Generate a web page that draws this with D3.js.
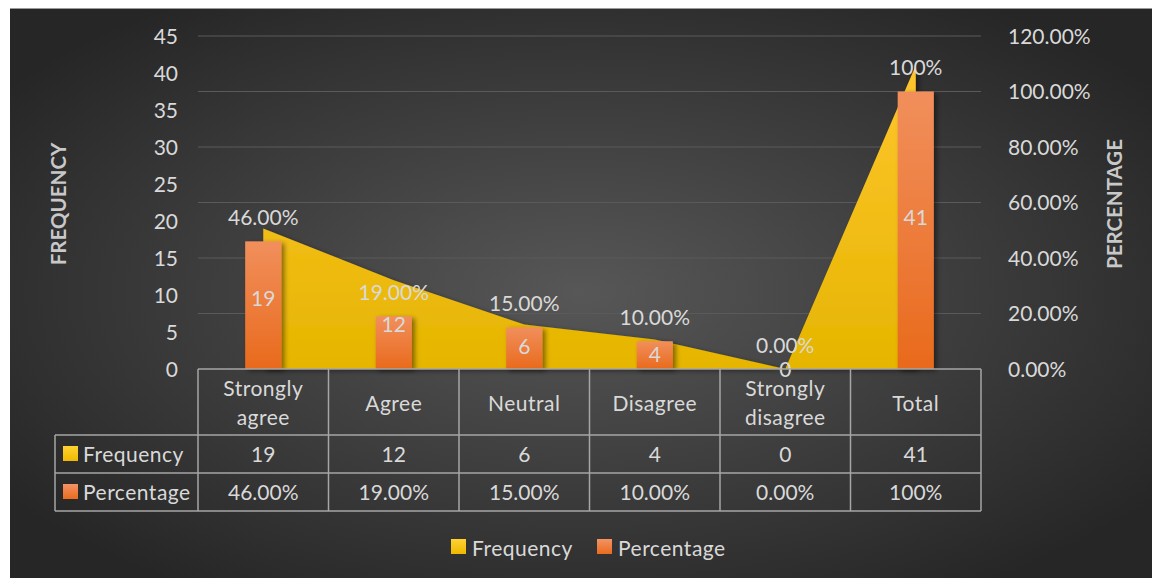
<!DOCTYPE html>
<html>
<head>
<meta charset="utf-8">
<script src="https://cdn.jsdelivr.net/npm/d3@7/dist/d3.min.js"></script>
<style>
  html, body { margin: 0; padding: 0; background: #ffffff; }
  svg { display: block; }
  text { font-family: Lato, "Open Sans", sans-serif; }
</style>
</head>
<body>
<svg id="chart" width="1152" height="578"></svg>
<script>
const categories = ["Strongly agree", "Agree", "Neutral", "Disagree", "Strongly disagree", "Total"];
const frequency = [19, 12, 6, 4, 0, 41];
const percentage = [0.46, 0.19, 0.15, 0.10, 0.00, 1.00];
const frequencyLabels = ["19", "12", "6", "4", "0", "41"];
const percentageLabels = ["46.00%", "19.00%", "15.00%", "10.00%", "0.00%", "100%"];
const leftTicks = [0, 5, 10, 15, 20, 25, 30, 35, 40, 45];
const leftTickLabels = ["0", "5", "10", "15", "20", "25", "30", "35", "40", "45"];
const rightTicks = [0, 0.2, 0.4, 0.6, 0.8, 1.0, 1.2];
const rightTickLabels = ["0.00%", "20.00%", "40.00%", "60.00%", "80.00%", "100.00%", "120.00%"];
const seriesNames = ["Frequency", "Percentage"];

const svg = d3.select("#chart");
const W = 1152, H = 578;
const plot = { left: 198, right: 981, top: 36, bottom: 369 };
const textColor = "#d9d9d9";
const lineColor = "#a6a6a6";
const fs = 21;
const wordSpacing = 0.5;

const defs = svg.append("defs");
const bg = defs.append("radialGradient").attr("id", "bg")
  .attr("cx", "50%").attr("cy", "50%").attr("r", "62%");
bg.append("stop").attr("offset", "0%").attr("stop-color", "#575757");
bg.append("stop").attr("offset", "100%").attr("stop-color", "#262626");

const areaGrad = defs.append("linearGradient").attr("id", "areaGrad")
  .attr("x1", 0).attr("y1", 0).attr("x2", 0).attr("y2", 1);
areaGrad.append("stop").attr("offset", "0%").attr("stop-color", "#ffc62e");
areaGrad.append("stop").attr("offset", "100%").attr("stop-color", "#e5b500");

const barGrad = defs.append("linearGradient").attr("id", "barGrad")
  .attr("x1", 0).attr("y1", 0).attr("x2", 0).attr("y2", 1);
barGrad.append("stop").attr("offset", "0%").attr("stop-color", "#f18f5c");
barGrad.append("stop").attr("offset", "100%").attr("stop-color", "#e96a1c");

const keyY = defs.append("linearGradient").attr("id", "keyY")
  .attr("x1", 0).attr("y1", 0).attr("x2", 0).attr("y2", 1);
keyY.append("stop").attr("offset", "0%").attr("stop-color", "#ffd233");
keyY.append("stop").attr("offset", "100%").attr("stop-color", "#efb900");
const keyO = defs.append("linearGradient").attr("id", "keyO")
  .attr("x1", 0).attr("y1", 0).attr("x2", 0).attr("y2", 1);
keyO.append("stop").attr("offset", "0%").attr("stop-color", "#f39365");
keyO.append("stop").attr("offset", "100%").attr("stop-color", "#ea6b1d");

const shadow = defs.append("filter").attr("id", "shadow")
  .attr("x", "-20%").attr("y", "-20%").attr("width", "160%").attr("height", "140%");
shadow.append("feDropShadow").attr("dx", 3).attr("dy", 2).attr("stdDeviation", 2.5)
  .attr("flood-color", "#000").attr("flood-opacity", 0.45);

// background
svg.append("rect").attr("x", 10).attr("y", 8).attr("width", W - 10).attr("height", H - 8)
  .attr("fill", "url(#bg)");
svg.append("line").attr("x1", 10).attr("x2", W).attr("y1", 8.5).attr("y2", 8.5)
  .attr("stroke", "#9a9a9a").attr("stroke-width", 1);

const x = d3.scaleBand().domain(categories).range([plot.left, plot.right]).padding(0);
const yL = d3.scaleLinear().domain([0, 45]).range([plot.bottom, plot.top]);
const yR = d3.scaleLinear().domain([0, 1.2]).range([plot.bottom, plot.top]);
const cx = c => x(c) + x.bandwidth() / 2;
const barW = x.bandwidth() * 0.277;

// gridlines (right axis)
svg.append("g").selectAll("line").data(rightTicks.filter(t => t > 0)).join("line")
  .attr("x1", plot.left).attr("x2", plot.right)
  .attr("y1", d => yR(d)).attr("y2", d => yR(d))
  .attr("stroke", "#5a5a5a").attr("stroke-width", 1.2);

// area
const area = d3.area()
  .x((d, i) => cx(categories[i]))
  .y0(plot.bottom)
  .y1(d => yL(d));
svg.append("path").datum(frequency).attr("d", area)
  .attr("fill", "url(#areaGrad)").attr("filter", "url(#shadow)");

// bars
svg.append("g").selectAll("rect").data(percentage).join("rect")
  .attr("x", (d, i) => cx(categories[i]) - barW / 2)
  .attr("width", barW)
  .attr("y", d => yR(d))
  .attr("height", d => plot.bottom - yR(d))
  .attr("fill", "url(#barGrad)").attr("filter", "url(#shadow)");

// left axis ticks
svg.append("g").selectAll("text").data(leftTicks).join("text")
  .attr("x", 178).attr("y", d => yL(d)).attr("dy", "0.36em")
  .attr("text-anchor", "end").attr("fill", textColor).attr("font-size", fs)
  .text((d, i) => leftTickLabels[i]);
// right axis ticks
svg.append("g").selectAll("text").data(rightTicks).join("text")
  .attr("x", 1008).attr("y", d => yR(d)).attr("dy", "0.36em")
  .attr("text-anchor", "start").attr("fill", textColor).attr("font-size", fs)
  .text((d, i) => rightTickLabels[i]);

// axis titles
svg.append("text").attr("transform", `translate(66,${204}) rotate(-90)`)
  .attr("text-anchor", "middle").attr("fill", "#c8c8c8").attr("font-size", 20.5)
  .attr("font-weight", "bold").text("FREQUENCY");
svg.append("text").attr("transform", `translate(1122,${204}) rotate(-90)`)
  .attr("text-anchor", "middle").attr("fill", "#c8c8c8").attr("font-size", 20.5)
  .attr("font-weight", "bold").text("PERCENTAGE");

// data labels: percentage above bars
svg.append("g").selectAll("text").data(percentage).join("text")
  .attr("x", (d, i) => cx(categories[i])).attr("y", d => yR(d) - 24).attr("dy", "0.36em")
  .attr("text-anchor", "middle").attr("fill", textColor).attr("font-size", fs)
  .text((d, i) => percentageLabels[i]);
// frequency labels at mid area
svg.append("g").selectAll("text").data(frequency).join("text")
  .attr("x", (d, i) => cx(categories[i])).attr("y", d => yL(d / 2)).attr("dy", "0.36em")
  .attr("text-anchor", "middle").attr("fill", textColor).attr("font-size", fs)
  .text((d, i) => frequencyLabels[i]);

// data table
const rowTop = plot.bottom, rowH1 = 435, rowH2 = 473, rowH3 = 511, tableLeft = 55;
const tg = svg.append("g").attr("stroke", lineColor).attr("stroke-width", 1.5).attr("fill", "none");
tg.append("line").attr("x1", plot.left).attr("x2", plot.right).attr("y1", rowTop).attr("y2", rowTop);
[rowH1, rowH2, rowH3].forEach(y => tg.append("line").attr("x1", tableLeft).attr("x2", plot.right).attr("y1", y).attr("y2", y));
tg.append("line").attr("x1", tableLeft).attr("x2", tableLeft).attr("y1", rowH1).attr("y2", rowH3);
categories.forEach(c => tg.append("line").attr("x1", x(c)).attr("x2", x(c)).attr("y1", rowTop).attr("y2", rowH3));
tg.append("line").attr("x1", plot.right).attr("x2", plot.right).attr("y1", rowTop).attr("y2", rowH3);

// category headers
categories.forEach(c => {
  const words = c.split(" ");
  const t = svg.append("text").attr("text-anchor", "middle").attr("fill", textColor)
    .attr("font-size", fs).attr("letter-spacing", wordSpacing);
  const midY = (rowTop + rowH1) / 2 + 1;
  if (words.length === 1) {
    t.append("tspan").attr("x", cx(c)).attr("y", midY).attr("dy", "0.36em").text(c);
  } else {
    words.forEach((w, k) => t.append("tspan").attr("x", cx(c)).attr("y", midY + (k === 0 ? -14.5 : 14.5)).attr("dy", "0.36em").text(w));
  }
});
// table rows
const rows = [frequencyLabels, percentageLabels];
const rowMid = [(rowH1 + rowH2) / 2, (rowH2 + rowH3) / 2];
const keys = ["url(#keyY)", "url(#keyO)"];
rows.forEach((vals, r) => {
  svg.append("g").selectAll("text").data(vals).join("text")
    .attr("x", (d, i) => cx(categories[i])).attr("y", rowMid[r]).attr("dy", "0.36em")
    .attr("text-anchor", "middle").attr("fill", textColor).attr("font-size", fs).text(d => d);
  svg.append("rect").attr("x", 63).attr("y", rowMid[r] - 8).attr("width", 15).attr("height", 15).attr("fill", keys[r]);
  svg.append("text").attr("x", 83).attr("y", rowMid[r]).attr("dy", "0.36em")
    .attr("fill", textColor).attr("font-size", fs).attr("letter-spacing", wordSpacing).text(seriesNames[r]);
});

// legend
const legendY = 548;
const legendItems = [{ name: seriesNames[0], key: keys[0], x: 451 }, { name: seriesNames[1], key: keys[1], x: 597 }];
legendItems.forEach(it => {
  svg.append("rect").attr("x", it.x).attr("y", legendY - 9).attr("width", 15).attr("height", 15).attr("fill", it.key);
  svg.append("text").attr("x", it.x + 21).attr("y", legendY).attr("dy", "0.36em")
    .attr("fill", textColor).attr("font-size", fs).attr("letter-spacing", wordSpacing).text(it.name);
});
</script>
</body>
</html>
